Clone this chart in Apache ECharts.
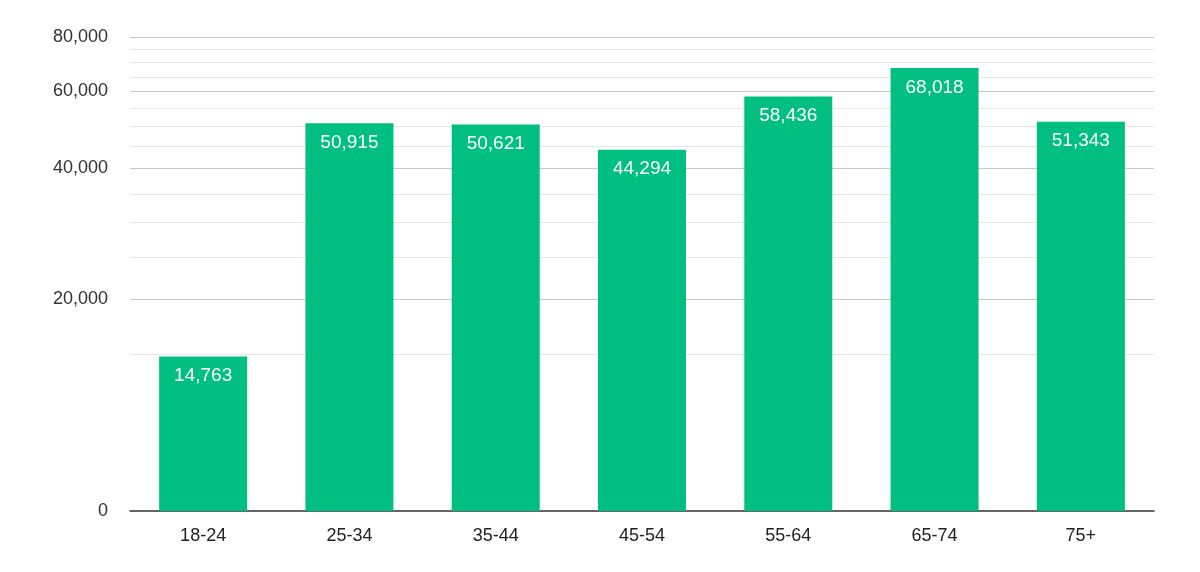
<!DOCTYPE html>
<html>
<head>
<meta charset="utf-8">
<script src="https://cdn.jsdelivr.net/npm/echarts@6/dist/echarts.min.js"></script>
<style>html,body{margin:0;padding:0;background:#fff}#main{width:1200px;height:572px}</style>
</head>
<body>
<div id="main"></div>
<script>
var categories = ['18-24', '25-34', '35-44', '45-54', '55-64', '65-74', '75+'];
var values = [14763, 50915, 50621, 44294, 58436, 68018, 51343];
var majorTicks = [0, 20000, 40000, 60000, 80000];
var minorTicks = [15000, 25000, 30000, 35000, 45000, 50000, 55000, 65000, 70000, 75000];

// the source axis is non-linear; knots (value -> scale units)
var knotV = [0, 15000, 20000, 25000, 30000, 35000, 40000, 45000, 50000, 55000, 60000, 65000, 70000, 75000, 80000];
var knotS = [0, 157, 212, 253.3, 289, 317, 343, 364.3, 384.3, 402.7, 420, 433.7, 449, 461.3, 473.7];

function fwd(v) {
    for (var i = 1; i < knotV.length; i++) {
        if (v <= knotV[i]) {
            var t = (v - knotV[i - 1]) / (knotV[i] - knotV[i - 1]);
            return knotS[i - 1] + t * (knotS[i] - knotS[i - 1]);
        }
    }
    return knotS[knotS.length - 1];
}
function inv(s) {
    for (var i = 1; i < knotS.length; i++) {
        if (s <= knotS[i] + 1e-6) {
            var t = (s - knotS[i - 1]) / (knotS[i] - knotS[i - 1]);
            return knotV[i - 1] + t * (knotV[i] - knotV[i - 1]);
        }
    }
    return knotV[knotV.length - 1];
}

var myChart = echarts.init(document.getElementById('main'));

var gridLines = [];
minorTicks.forEach(function (v) {
    gridLines.push({ yAxis: fwd(v), lineStyle: { color: '#e6e6e6', width: 1, type: 'solid' } });
});
majorTicks.slice(1).forEach(function (v) {
    gridLines.push({ yAxis: fwd(v), lineStyle: { color: '#c8c8c8', width: 1, type: 'solid' } });
});

option = {
    animation: false,
    grid: { left: 130, right: 46, top: 37.3, bottom: 61 },
    xAxis: {
        type: 'category',
        data: categories,
        axisLine: { lineStyle: { color: '#333', width: 1.5 } },
        axisTick: { show: false },
        axisLabel: { color: '#222', fontSize: 18, fontFamily: 'Liberation Sans', margin: 16 }
    },
    yAxis: {
        type: 'value',
        min: 0,
        max: knotS[knotS.length - 1],
        splitLine: { show: false },
        axisLine: { show: false },
        axisTick: { show: false },
        axisLabel: {
            customValues: majorTicks.map(fwd),
            color: '#333',
            fontSize: 18,
            fontFamily: 'Liberation Sans',
            margin: 22,
            formatter: function (s) {
                return Math.round(inv(s) / 1000) * 1000 === 0 ? '0' :
                    (Math.round(inv(s) / 1000) * 1000).toLocaleString('en-US');
            }
        }
    },
    series: [{
        type: 'bar',
        barWidth: 88,
        data: values.map(function (v) { return { value: fwd(v), raw: v }; }),
        itemStyle: { color: '#00bf80' },
        label: {
            show: true,
            position: 'insideTop',
            distance: 10,
            color: '#fff',
            fontSize: 19,
            fontFamily: 'Liberation Sans',
            formatter: function (p) { return p.data.raw.toLocaleString('en-US'); }
        },
        markLine: {
            silent: true,
            symbol: 'none',
            label: { show: false },
            z: 0,
            data: gridLines
        },
        z: 2
    }]
};

myChart.setOption(option);
</script>
</body>
</html>
